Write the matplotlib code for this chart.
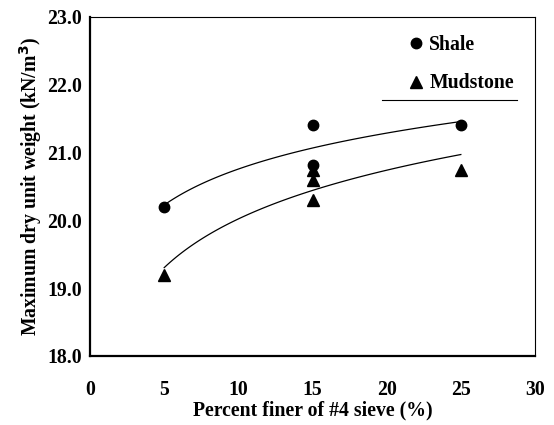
import numpy as np
import matplotlib.pyplot as plt

plt.rcParams['font.family'] = ['Liberation Serif', 'DejaVu Serif']
plt.rcParams['font.weight'] = 'bold'

# data
shale_x = [5, 15, 15, 25]
shale_y = [20.2, 21.4, 20.82, 21.4]
mud_x = [5, 15, 15, 15, 25]
mud_y = [19.2, 20.75, 20.6, 20.3, 20.75]

x_ticks = [0, 5, 10, 15, 20, 25, 30]
y_ticks = [18.0, 19.0, 20.0, 21.0, 22.0, 23.0]


def log_fit(x, y):
    # logarithmic trend line, y = a + b ln(x)
    b, a = np.polyfit(np.log(x), y, 1)
    xs = np.linspace(min(x), max(x), 100)
    return xs, a + b * np.log(xs)


fig = plt.figure(figsize=(5.54, 4.25), dpi=100)
ax = fig.add_axes([0.1625, 0.1624, 0.8032, 0.7976])

ax.plot(shale_x, shale_y, 'o', color='black', markersize=7.5, label='Shale', zorder=4)
ax.plot(mud_x, mud_y, '^', color='black', markersize=8.5, label='Mudstone', zorder=3)

xs, ys = log_fit(shale_x, shale_y)
ax.plot(xs, ys, '-', color='black', lw=0.9)
xs, ys = log_fit(mud_x, mud_y)
ax.plot(xs, ys, '-', color='black', lw=0.9)

ax.set_xlim(0, 30)
ax.set_ylim(18, 23)
ax.set_xticks(x_ticks)
ax.set_yticks(y_ticks)
ax.set_yticklabels([f'{v:.1f}' for v in y_ticks])
ax.tick_params(length=0, labelsize=14.2, pad=17)
ax.tick_params(axis='y', pad=6)

ax.set_xlabel('Percent finer of #4 sieve (%)', fontsize=14.2, fontweight='bold', labelpad=1)
ax.set_ylabel('Maximum dry unit weight (kN/m$^3$)', fontsize=14.2, fontweight='bold', labelpad=2)

for side in ['left', 'bottom']:
    ax.spines[side].set_linewidth(1.6)
for side in ['top', 'right']:
    ax.spines[side].set_linewidth(0.8)

ax.legend(loc='upper left', bbox_to_anchor=(0.665, 1.0), frameon=False,
          handletextpad=0.1, labelspacing=0.95, handlelength=1.2,
          prop={'weight': 'bold', 'size': 14.2})
ax.plot([0.657, 0.96], [0.755, 0.755], color='black', lw=0.8, transform=ax.transAxes)

fig.savefig('out.png', dpi=100)
